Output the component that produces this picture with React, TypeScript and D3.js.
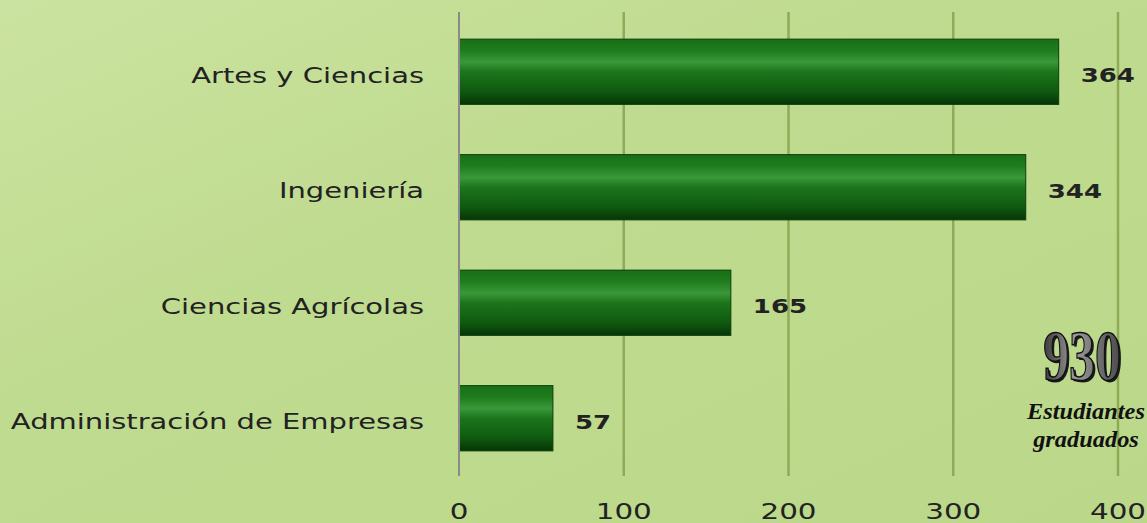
import React, { useEffect, useRef } from "react";
import * as d3 from "d3";

const categories = ["Artes y Ciencias", "Ingeniería", "Ciencias Agrícolas", "Administración de Empresas"];
const values = [364, 344, 165, 57];
const xTicks = [0, 100, 200, 300, 400];
const totalLabel = "930";
const totalCaption = ["Estudiantes", "graduados"];

export default function App() {
  const ref = useRef<SVGSVGElement>(null);
  useEffect(() => {
    const svg = d3.select(ref.current);
    svg.selectAll("*").remove();
    const W = 1147, H = 523;
    const x = d3.scaleLinear().domain([0, 400]).range([459, 1118]);
    const y = d3.scaleBand().domain(categories).range([14, 476]).paddingInner(0.435).paddingOuter(0.2175);
    const font = "DejaVu Sans, Verdana, sans-serif";

    const defs = svg.append("defs");
    const bg = defs.append("linearGradient").attr("id", "bg").attr("x1", 0).attr("y1", 0).attr("x2", 1).attr("y2", 1);
    bg.append("stop").attr("offset", "0%").attr("stop-color", "#cbe3a0");
    bg.append("stop").attr("offset", "40%").attr("stop-color", "#bfdb8f");
    bg.append("stop").attr("offset", "100%").attr("stop-color", "#bbd88a");
    const bar = defs.append("linearGradient").attr("id", "bar").attr("x1", 0).attr("y1", 0).attr("x2", 0).attr("y2", 1);
    bar.append("stop").attr("offset", "0%").attr("stop-color", "#186f16");
    bar.append("stop").attr("offset", "18%").attr("stop-color", "#1f7d1e");
    bar.append("stop").attr("offset", "35%").attr("stop-color", "#3a983a");
    bar.append("stop").attr("offset", "50%").attr("stop-color", "#1c751b");
    bar.append("stop").attr("offset", "80%").attr("stop-color", "#0f5a10");
    bar.append("stop").attr("offset", "100%").attr("stop-color", "#063506");
    const num = defs.append("linearGradient").attr("id", "num").attr("x1", 0).attr("y1", 0).attr("x2", 1).attr("y2", 0);
    num.append("stop").attr("offset", "0%").attr("stop-color", "#3a3a3a");
    num.append("stop").attr("offset", "40%").attr("stop-color", "#9a9a9a");
    num.append("stop").attr("offset", "100%").attr("stop-color", "#4a4a4a");

    svg.append("rect").attr("width", W).attr("height", H).attr("fill", "url(#bg)");

    // gridlines
    svg.append("g").selectAll("line").data(xTicks.slice(1)).join("line")
      .attr("x1", d => x(d)).attr("x2", d => x(d)).attr("y1", 12).attr("y2", 476)
      .attr("stroke", "#90aa58").attr("stroke-width", 2.5);

    // bars
    svg.append("g").selectAll("rect").data(values).join("rect")
      .attr("x", x(0)).attr("y", (d, i) => y(categories[i])!)
      .attr("width", d => x(d) - x(0)).attr("height", y.bandwidth())
      .attr("fill", "url(#bar)").attr("stroke", "#0b3f0b").attr("stroke-width", 1);

    // axis line
    svg.append("line").attr("x1", x(0)).attr("x2", x(0)).attr("y1", 12).attr("y2", 476)
      .attr("stroke", "#8a8a8a").attr("stroke-width", 2);

    // category labels
    svg.append("g").selectAll("text").data(categories).join("text")
      .attr("transform", d => `translate(424,${y(d)! + y.bandwidth() / 2 + 4}) scale(1.38,1)`)
      .attr("text-anchor", "end").attr("dominant-baseline", "central")
      .attr("font-family", font).attr("font-size", 21)
      .attr("fill", "#222").text(d => d);

    // value labels
    svg.append("g").selectAll("text").data(values).join("text")
      .attr("transform", (d, i) => `translate(${x(d) + 22},${y(categories[i])! + y.bandwidth() / 2 + 3}) scale(1.3,1)`)
      .attr("dominant-baseline", "central")
      .attr("font-family", font).attr("font-size", 20).attr("font-weight", "bold")
      .attr("fill", "#222").text(d => d);

    // tick labels
    svg.append("g").selectAll("text").data(xTicks).join("text")
      .attr("transform", d => `translate(${x(d)},512) scale(1.4,1)`)
      .attr("text-anchor", "middle").attr("dominant-baseline", "central")
      .attr("font-family", font).attr("font-size", 21)
      .attr("fill", "#222").text(d => d);

    // total annotation
    const g = svg.append("g").attr("transform", "translate(1082,380) scale(0.72,1)");
    g.append("text").attr("x", 3).attr("y", 2).attr("text-anchor", "middle")
      .attr("font-family", "Liberation Serif, DejaVu Serif, serif").attr("font-size", 72).attr("font-weight", "bold")
      .attr("fill", "#1a1a1a").text(totalLabel);
    g.append("text").attr("x", 0).attr("y", 0).attr("text-anchor", "middle")
      .attr("font-family", "Liberation Serif, DejaVu Serif, serif").attr("font-size", 72).attr("font-weight", "bold")
      .attr("fill", "url(#num)").attr("stroke", "#111").attr("stroke-width", 1.5).text(totalLabel);

    svg.append("g").selectAll("text").data(totalCaption).join("text")
      .attr("transform", (d, i) => `translate(1086,${419 + i * 28}) scale(1.06,1)`)
      .attr("text-anchor", "middle")
      .attr("font-family", "Liberation Serif, DejaVu Serif, serif").attr("font-size", 23)
      .attr("font-style", "italic").attr("font-weight", "bold")
      .attr("fill", "#111").text(d => d);
  }, []);
  return <svg ref={ref} width={1147} height={523} style={{ position: "absolute", left: 0, top: 0 }} />;
}
